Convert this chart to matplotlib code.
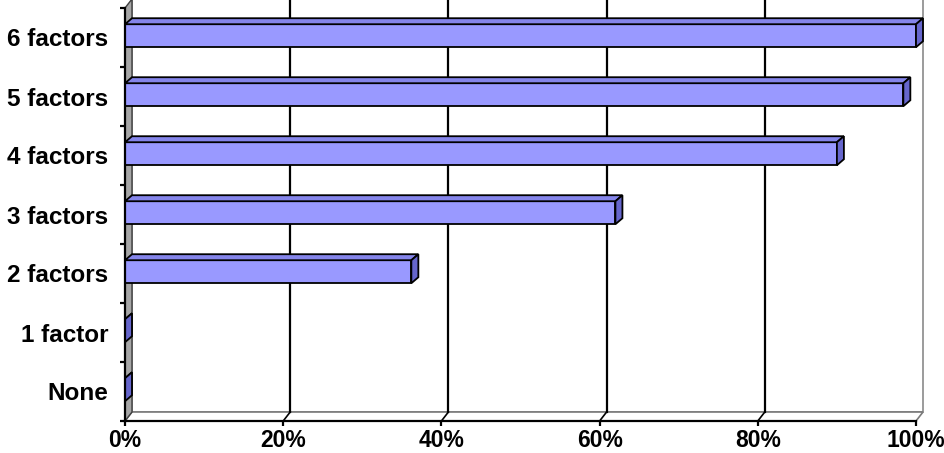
import numpy as np
import matplotlib.pyplot as plt
from matplotlib.patches import Polygon, Rectangle

# data
categories = ['None', '1 factor', '2 factors', '3 factors', '4 factors', '5 factors', '6 factors']
values = [0, 0, 36.2, 62, 90, 98.4, 100]
xticks = [0, 20, 40, 60, 80, 100]
xtick_labels = ['0%', '20%', '40%', '60%', '80%', '100%']

plt.rcParams['font.family'] = ['Liberation Sans', 'DejaVu Sans']
plt.rcParams['font.weight'] = 'bold'

W, H = 945, 453
fig = plt.figure(figsize=(W / 100, H / 100), dpi=100)
# front plane of the pseudo-3d box, in pixels
x0, x1, y_bot, y_top = 125, 916, 421, 8
ax = fig.add_axes([x0 / W, (H - y_bot) / H, (x1 - x0) / W, (y_bot - y_top) / H])
ax.set_xlim(0, 100)
ax.set_ylim(-0.5, len(categories) - 0.5)

px_x = (x1 - x0) / 100.0
px_y = (y_bot - y_top) / len(categories)
# depth offsets (data units)
wx, wy = 7 / px_x, 9 / px_y
bx, by = 7 / px_x, 6 / px_y
ylo, yhi = -0.5, len(categories) - 0.5

# back wall
ax.add_patch(Rectangle((wx, ylo + wy), 100, yhi - ylo, facecolor='white',
                       edgecolor='#8a8a8a', lw=1.2, clip_on=False, zorder=1))
# gridlines on back wall + floor
for t in xticks[1:-1]:
    ax.plot([t + wx, t + wx], [ylo + wy, yhi + wy], color='black', lw=1.6,
            clip_on=False, zorder=2)
    ax.plot([t, t + wx], [ylo, ylo + wy], color='black', lw=1.2,
            clip_on=False, zorder=2)
# floor
ax.add_patch(Polygon([(0, ylo), (100, ylo), (100 + wx, ylo + wy), (wx, ylo + wy)],
                     closed=True, facecolor='white', edgecolor='#7a7a7a', lw=1.2,
                     clip_on=False, zorder=1.5))
# left wall
ax.add_patch(Polygon([(0, ylo), (wx, ylo + wy), (wx, yhi + wy), (0, yhi)],
                     closed=True, facecolor='#a6a6a6', edgecolor='#404040', lw=1.0,
                     clip_on=False, zorder=3))

# bars
bh = 0.39
for i, v in enumerate(values):
    yb = i - bh / 2 + 0.03
    yt = yb + bh
    ax.add_patch(Rectangle((0, yb), v, bh, facecolor='#9999ff', edgecolor='black',
                           lw=1.3, clip_on=False, zorder=4))
    ax.add_patch(Polygon([(0, yt), (v, yt), (v + bx, yt + by), (bx, yt + by)],
                         closed=True, facecolor='#8585ea', edgecolor='black',
                         lw=1.3, clip_on=False, zorder=4))
    ax.add_patch(Polygon([(v, yb), (v + bx, yb + by), (v + bx, yt + by), (v, yt)],
                         closed=True, facecolor='#6666cc', edgecolor='black',
                         lw=1.3, clip_on=False, zorder=4.5))

for s in ['top', 'right']:
    ax.spines[s].set_visible(False)
for s in ['left', 'bottom']:
    ax.spines[s].set_linewidth(1.6)
    ax.spines[s].set_zorder(6)

ax.set_xticks(xticks)
ax.set_xticklabels(xtick_labels, fontsize=16.5, fontweight='bold')
ax.tick_params(axis='x', direction='out', length=3.5, width=1.6, pad=2.5)

ax.set_yticks(np.arange(ylo, yhi + 0.01, 1.0))
ax.set_yticklabels([])
ax.tick_params(axis='y', direction='out', length=3.5, width=1.6)
ax.set_yticks(np.arange(len(categories)), minor=True)
ax.set_yticklabels(categories, minor=True, fontsize=17.5, fontweight='bold')
ax.tick_params(axis='y', which='minor', length=0, pad=12)
ax.set_facecolor('none')

fig.savefig('out.png', dpi=100)
